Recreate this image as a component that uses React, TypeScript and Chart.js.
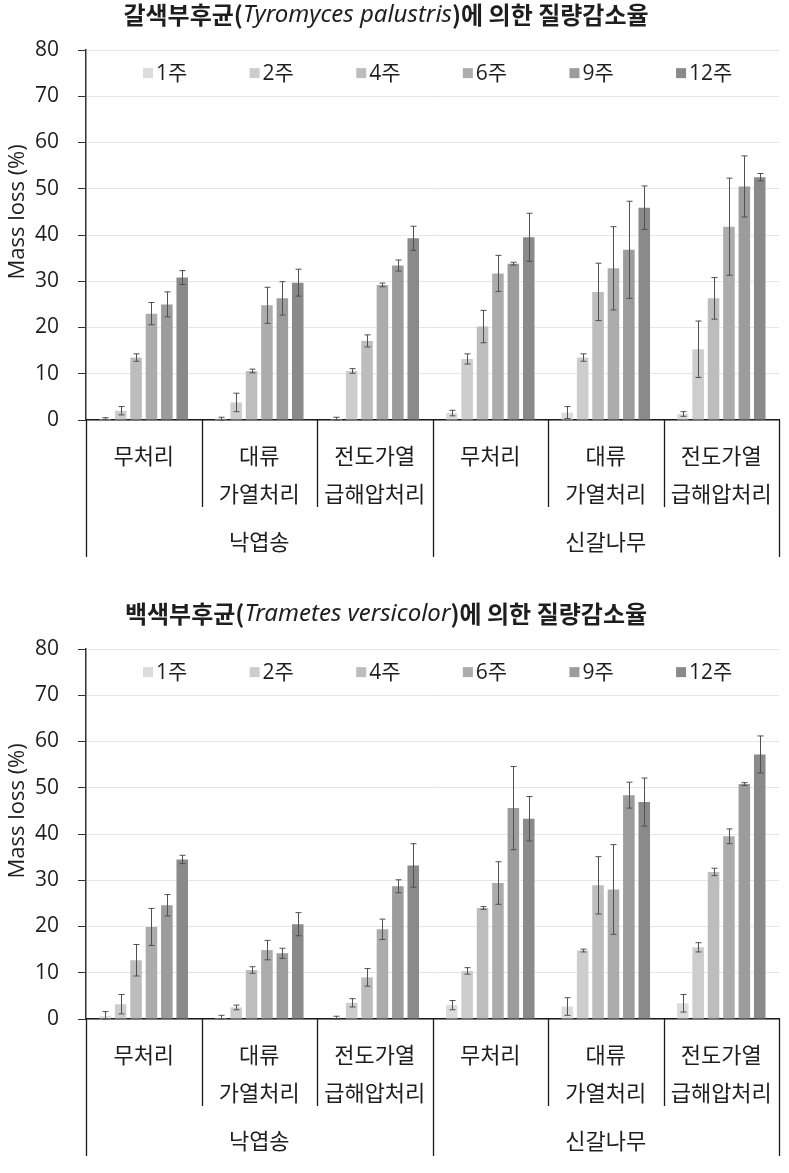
import React, { useEffect, useRef } from 'react';
import { Chart, registerables } from 'chart.js';

Chart.register(...registerables);

// ---------- labels ----------
const weekLabels = ['1주', '2주', '4주', '6주', '9주', '12주'];
const treatmentLabels = [
  ['무처리'],
  ['대류', '가열처리'],
  ['전도가열', '급해압처리'],
  ['무처리'],
  ['대류', '가열처리'],
  ['전도가열', '급해압처리'],
];
const speciesLabels = ['낙엽송', '신갈나무'];
const yAxisTitle = 'Mass loss (%)';
const yMin = 0;
const yMax = 80;
const yStep = 10;

const barColors = ['#dcdcdc', '#cdcdcd', '#bdbdbd', '#acacac', '#9c9c9c', '#8a8a8a'];

// ---------- brown-rot (Tyromyces palustris) ----------
const brownTitle = ['갈색부후균(', 'Tyromyces palustris', ')에 의한 질량감소율'];
const brown1w = [0.3, 0.3, 0.2, 1.5, 1.6, 1.3];
const brown2w = [2.0, 3.8, 10.6, 13.2, 13.5, 15.3];
const brown4w = [13.5, 10.6, 17.1, 20.2, 27.7, 26.3];
const brown6w = [23.0, 24.8, 29.2, 31.7, 32.8, 41.8];
const brown9w = [25.0, 26.3, 33.4, 33.8, 36.8, 50.5];
const brown12w = [30.8, 29.7, 39.3, 39.5, 45.9, 52.5];
const brownErr1w = [0.2, 0.3, 0.4, 0.6, 1.3, 0.5];
const brownErr2w = [0.9, 2.0, 0.5, 1.1, 0.8, 6.1];
const brownErr4w = [0.8, 0.4, 1.3, 3.5, 6.2, 4.5];
const brownErr6w = [2.4, 3.9, 0.4, 3.9, 9.0, 10.5];
const brownErr9w = [2.7, 3.6, 1.2, 0.3, 10.5, 6.6];
const brownErr12w = [1.5, 2.9, 2.6, 5.2, 4.7, 0.8];

// ---------- white-rot (Trametes versicolor) ----------
const whiteTitle = ['백색부후균(', 'Trametes versicolor', ')에 의한 질량감소율'];
const white1w = [0.6, 0.2, 0.1, 3.0, 2.7, 3.4];
const white2w = [3.2, 2.5, 3.5, 10.4, 14.8, 15.5];
const white4w = [12.7, 10.6, 9.0, 24.0, 28.9, 31.8];
const white6w = [19.9, 14.9, 19.4, 29.4, 28.0, 39.5];
const white9w = [24.6, 14.2, 28.7, 45.6, 48.4, 50.8];
const white12w = [34.5, 20.5, 33.2, 43.3, 46.9, 57.2];
const whiteErr1w = [1.0, 0.6, 0.5, 1.0, 1.9, 1.9];
const whiteErr2w = [2.1, 0.5, 0.9, 0.7, 0.3, 1.0];
const whiteErr4w = [3.4, 0.7, 1.9, 0.3, 6.2, 0.8];
const whiteErr6w = [4.0, 2.1, 2.2, 4.6, 9.7, 1.6];
const whiteErr9w = [2.3, 1.1, 1.4, 9.0, 2.8, 0.3];
const whiteErr12w = [0.9, 2.5, 4.7, 4.8, 5.2, 4.0];

const FONT = '"Open Sans", "Noto Sans CJK KR", sans-serif';
const KFONT = '"Noto Sans CJK KR", "Open Sans", sans-serif';
const TEXT = '#1e1e1e';

const errorBarsPlugin = {
  id: 'errorBars',
  afterDatasetsDraw(chart: any, _args: any, opts: any) {
    const ctx = chart.ctx;
    const ys = chart.scales.y;
    ctx.save();
    ctx.strokeStyle = '#505050';
    ctx.lineWidth = 1;
    chart.data.datasets.forEach((ds: any, i: number) => {
      const meta = chart.getDatasetMeta(i);
      meta.data.forEach((bar: any, j: number) => {
        const v = ds.data[j];
        const e = opts.errors[i][j];
        const x = Math.round(bar.x) + 0.5;
        const yt = ys.getPixelForValue(v + e);
        const yb = ys.getPixelForValue(Math.max(0, v - e));
        ctx.beginPath();
        ctx.moveTo(x, yt);
        ctx.lineTo(x, yb);
        ctx.moveTo(x - 3, yt);
        ctx.lineTo(x + 3, yt);
        ctx.moveTo(x - 3, yb);
        ctx.lineTo(x + 3, yb);
        ctx.stroke();
      });
    });
    ctx.restore();
  },
};

const innerLegendPlugin = {
  id: 'innerLegend',
  afterDraw(chart: any) {
    const ctx = chart.ctx;
    const area = chart.chartArea;
    const ys = chart.scales.y;
    const cy = ys.getPixelForValue(75);
    const step = area.width / 6.5;
    ctx.save();
    ctx.font = `21px ${FONT}`;
    ctx.textBaseline = 'middle';
    ctx.textAlign = 'left';
    chart.data.datasets.forEach((ds: any, i: number) => {
      const x = area.left + 57 + i * step;
      ctx.fillStyle = ds.backgroundColor;
      ctx.fillRect(x, cy - 5, 10, 10);
      ctx.fillStyle = TEXT;
      ctx.fillText(ds.label, x + 13, cy + 1);
    });
    ctx.restore();
  },
};

const yTitlePlugin = {
  id: 'yTitle',
  afterDraw(chart: any, _args: any, opts: any) {
    const ctx = chart.ctx;
    const ys = chart.scales.y;
    ctx.save();
    ctx.translate(18, ys.getPixelForValue(45));
    ctx.rotate(-Math.PI / 2);
    ctx.font = `22px ${FONT}`;
    ctx.fillStyle = TEXT;
    ctx.textAlign = 'center';
    ctx.textBaseline = 'middle';
    ctx.fillText(opts.text, 0, 0);
    ctx.restore();
  },
};

const groupAxisPlugin = {
  id: 'groupAxis',
  afterDraw(chart: any, _args: any, opts: any) {
    const ctx = chart.ctx;
    const xs = chart.scales.x;
    const area = chart.chartArea;
    const n = chart.data.labels.length;
    ctx.save();
    ctx.strokeStyle = '#1a1a1a';
    ctx.lineWidth = 1.3;
    for (let i = 0; i <= n; i++) {
      const xb = Math.round(xs.getPixelForValue(i - 0.5)) + 0.5;
      const end = i % 3 === 0 ? area.bottom + 137 : area.bottom + 87;
      ctx.beginPath();
      ctx.moveTo(xb, area.bottom);
      ctx.lineTo(xb, end);
      ctx.stroke();
    }
    ctx.font = `22px ${KFONT}`;
    ctx.fillStyle = TEXT;
    ctx.textAlign = 'center';
    ctx.textBaseline = 'middle';
    opts.groups.forEach((g: string, k: number) => {
      const cx = xs.getPixelForValue(k * 3 + 1);
      ctx.fillText(g, cx, area.bottom + 122);
    });
    ctx.restore();
  },
};

const mixedTitlePlugin = {
  id: 'mixedTitle',
  afterDraw(chart: any, _args: any, opts: any) {
    const ctx = chart.ctx;
    const parts: string[] = opts.parts;
    const fonts = [`bold 24px ${KFONT}`, `italic 24px "Noto Sans", sans-serif`, `bold 24px ${KFONT}`];
    ctx.save();
    let total = 0;
    const widths = parts.map((p, i) => {
      ctx.font = fonts[i];
      const w = ctx.measureText(p).width;
      total += w;
      return w;
    });
    let x = opts.centerX - total / 2;
    ctx.textBaseline = 'middle';
    ctx.textAlign = 'left';
    ctx.fillStyle = TEXT;
    parts.forEach((p, i) => {
      ctx.font = fonts[i];
      ctx.fillText(p, x, opts.y);
      x += widths[i];
    });
    ctx.restore();
  },
};

function MassLossChart(props: { title: string[]; series: number[][]; errors: number[][] }) {
  const ref = useRef<HTMLCanvasElement | null>(null);
  useEffect(() => {
    if (!ref.current) return;
    const chart = new Chart(ref.current, {
      type: 'bar',
      data: {
        labels: treatmentLabels as any,
        datasets: weekLabels.map((w, i) => ({
          label: w,
          data: props.series[i],
          backgroundColor: barColors[i],
          borderWidth: 0,
          categoryPercentage: 0.8,
          barPercentage: 0.75,
        })),
      },
      options: {
        responsive: false,
        animation: false,
        events: [],
        layout: { padding: { top: 50, right: 10, left: 0, bottom: 0 } },
        plugins: {
          legend: { display: false },
          title: { display: false },
          tooltip: { enabled: false },
          errorBars: { errors: props.errors },
          groupAxis: { groups: speciesLabels },
          yTitle: { text: yAxisTitle },
          mixedTitle: { parts: props.title, centerX: 386, y: 15 },
        } as any,
        scales: {
          x: {
            type: 'category',
            offset: true,
            grid: { display: false },
            border: { display: true, color: '#1a1a1a', width: 1.5 },
            ticks: {
              autoSkip: false,
              maxRotation: 0,
              minRotation: 0,
              padding: 9,
              color: TEXT,
              font: { family: KFONT, size: 22, lineHeight: 1.727 },
            },
            afterFit: (s: any) => {
              s.height = 154;
            },
          },
          y: {
            min: yMin,
            max: yMax,
            ticks: {
              stepSize: yStep,
              padding: 19,
              color: TEXT,
              font: { family: FONT, size: 21 },
            },
            grid: {
              color: '#e6e6e6',
              tickColor: '#333333',
              tickLength: 8,
              drawTicks: true,
            },
            border: { display: true, color: '#333333', width: 1.5 },
            title: { display: false },
            afterFit: (s: any) => {
              s.width = 86;
            },
          },
        },
      },
      plugins: [errorBarsPlugin, innerLegendPlugin, groupAxisPlugin, yTitlePlugin, mixedTitlePlugin],
    } as any);
    return () => chart.destroy();
  }, []);
  return <canvas ref={ref} width={789} height={574} style={{ display: 'block', width: 789, height: 574 }} />;
}

export default function App() {
  const brownSeries = [brown1w, brown2w, brown4w, brown6w, brown9w, brown12w];
  const brownErrors = [brownErr1w, brownErr2w, brownErr4w, brownErr6w, brownErr9w, brownErr12w];
  const whiteSeries = [white1w, white2w, white4w, white6w, white9w, white12w];
  const whiteErrors = [whiteErr1w, whiteErr2w, whiteErr4w, whiteErr6w, whiteErr9w, whiteErr12w];
  return (
    <div style={{ position: 'absolute', left: 0, top: 0, width: 789, height: 1173, background: '#ffffff', overflow: 'hidden' }}>
      <div style={{ position: 'absolute', left: 0, top: 0 }}>
        <MassLossChart title={brownTitle} series={brownSeries} errors={brownErrors} />
      </div>
      <div style={{ position: 'absolute', left: 0, top: 599 }}>
        <MassLossChart title={whiteTitle} series={whiteSeries} errors={whiteErrors} />
      </div>
    </div>
  );
}
